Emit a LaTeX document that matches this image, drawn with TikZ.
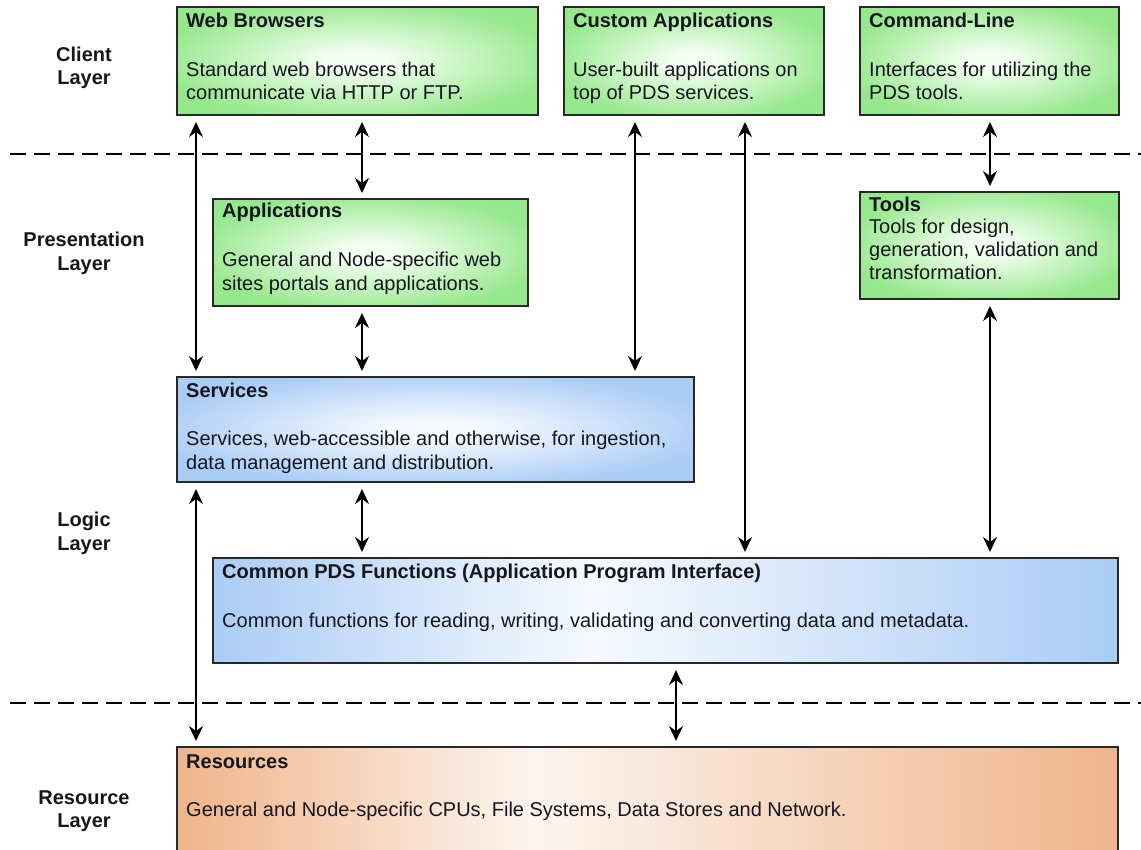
\documentclass[tikz,border=0pt]{standalone}
\usepackage{fontspec}
\setmainfont{Liberation Sans}
\usetikzlibrary{arrows.meta}
\definecolor{gedge}{RGB}{150,232,140}
\definecolor{gmid}{RGB}{244,255,242}
\definecolor{bedge}{RGB}{170,204,245}
\definecolor{bmid}{RGB}{246,250,255}
\definecolor{oedge}{RGB}{240,180,138}
\definecolor{omid}{RGB}{253,245,239}
\definecolor{bord}{RGB}{40,40,40}
\definecolor{txt}{RGB}{22,22,30}
\pgfdeclareradialshading{gball}{\pgfpoint{0bp}{0bp}}{color(0bp)=(gmid); color(4bp)=(gmid); color(28bp)=(gedge); color(50bp)=(gedge)}
\pgfdeclareradialshading{bball}{\pgfpoint{0bp}{0bp}}{color(0bp)=(bmid); color(4bp)=(bmid); color(28bp)=(bedge); color(50bp)=(bedge)}
\pgfdeclarehorizontalshading{bwide}{100bp}{color(0bp)=(bedge); color(25bp)=(bedge); color(46bp)=(bmid); color(75bp)=(bedge); color(100bp)=(bedge)}
\pgfdeclarehorizontalshading{owide}{100bp}{color(0bp)=(oedge); color(25bp)=(oedge); color(44bp)=(omid); color(75bp)=(oedge); color(100bp)=(oedge)}
\tikzset{
  box/.style={draw=bord, line width=1.8pt, anchor=north west, inner sep=0pt, outer sep=0pt},
  gbox/.style={box, shading=gball},
  bbox/.style={box, shading=bball},
  ttl/.style={anchor=base west, inner sep=0pt, text=txt, font=\bfseries\fontsize{20}{24}\selectfont},
  bdy/.style={anchor=base west, inner sep=0pt, text=txt, font=\fontsize{20}{24}\selectfont},
  lay/.style={anchor=base, inner sep=0pt, text=txt, font=\bfseries\fontsize{20}{24}\selectfont},
  tip/.tip={Stealth[length=15pt,width=14pt,inset=5pt]},
  arr/.style={line width=1.9pt, draw=black, tip-tip, shorten <=7pt, shorten >=6pt},
  dashline/.style={line width=1.8pt, draw=black, dash pattern=on 16pt off 8pt}
}
\begin{document}
\begin{tikzpicture}[x=1pt,y=-1pt]
\useasboundingbox (0,0) rectangle (1141,850);
\clip (0,0) rectangle (1141,850);
\fill[white] (0,0) rectangle (1141,850);

% separators
\coordinate (d1l) at (10,154);
\coordinate (d1r) at (1141,154);
\coordinate (d2l) at (10,703);
\coordinate (d2r) at (1141,703);
\draw[dashline] (d1l) -- (d1r);
\draw[dashline] (d2l) -- (d2r);

% layer labels
\node[lay] (L1a) at (84,62) {Client};
\node[lay] (L1b) at (84,85) {Layer};
\node[lay] (L2a) at (84,247) {Presentation};
\node[lay] (L2b) at (84,271) {Layer};
\node[lay] (L3a) at (84,526) {Logic};
\node[lay] (L3b) at (84,550) {Layer};
\node[lay] (L4a) at (84,804) {Resource};
\node[lay] (L4b) at (84,827) {Layer};

% client layer boxes
\node[gbox, minimum width=361pt, minimum height=108pt] (WB) at (177,7) {};
\node[ttl] (WBt) at (186,28) {Web Browsers};
\node[bdy] (WB1) at (186,77) {Standard web browsers that};
\node[bdy] (WB2) at (186,100) {communicate via HTTP or FTP.};

\node[gbox, minimum width=260pt, minimum height=108pt] (CA) at (564,7) {};
\node[ttl] (CAt) at (573,28) {Custom Applications};
\node[bdy] (CA1) at (573,77) {User-built applications on};
\node[bdy] (CA2) at (573,100) {top of PDS services.};

\node[gbox, minimum width=259pt, minimum height=108pt] (CL) at (860,7) {};
\node[ttl] (CLt) at (869,28) {Command-Line};
\node[bdy] (CL1) at (869,77) {Interfaces for utilizing the};
\node[bdy] (CL2) at (869,100) {PDS tools.};

% presentation layer boxes
\node[gbox, minimum width=315pt, minimum height=107pt] (AP) at (213,199) {};
\node[ttl] (APt) at (222,218) {Applications};
\node[bdy] (AP1) at (222,267) {General and Node-specific web};
\node[bdy] (AP2) at (222,291) {sites portals and applications.};

\node[gbox, minimum width=259pt, minimum height=107pt] (TL) at (860,192) {};
\node[ttl] (TLt) at (869,212) {Tools};
\node[bdy] (TL1) at (869,234) {Tools for design,};
\node[bdy] (TL2) at (869,257) {generation, validation and};
\node[bdy] (TL3) at (869,280) {transformation.};

% logic layer boxes
\node[bbox, minimum width=517pt, minimum height=105pt] (SV) at (177,377) {};
\node[ttl] (SVt) at (186,397) {Services};
\node[bdy] (SV1) at (186,445) {Services, web-accessible and otherwise, for ingestion,};
\node[bdy] (SV2) at (186,469) {data management and distribution.};

\node[box, shading=bwide, minimum width=905pt, minimum height=105pt] (CP) at (213,558) {};
\node[ttl] (CPt) at (222,578) {Common PDS Functions (Application Program Interface)};
\node[bdy] (CP1) at (222,627) {Common functions for reading, writing, validating and converting data and metadata.};

% resource layer box
\node[box, shading=owide, minimum width=941pt, minimum height=130pt] (RS) at (177,747) {};
\node[ttl] (RSt) at (186,768) {Resources};
\node[bdy] (RS1) at (186,816) {General and Node-specific CPUs, File Systems, Data Stores and Network.};

% connectors
\draw[arr] ([xshift=19pt]WB.south west) -- ([xshift=19pt]SV.north west);
\draw[arr] ([xshift=185pt]WB.south west) -- ([xshift=149pt]AP.north west);
\draw[arr] ([xshift=149pt]AP.south west) -- ([xshift=185pt]SV.north west);
\draw[arr] ([xshift=71pt]CA.south west) -- ([xshift=458pt]SV.north west);
\draw[arr] ([xshift=181pt]CA.south west) -- ([xshift=532pt]CP.north west);
\draw[arr] ([xshift=130pt]CL.south west) -- ([xshift=130pt]TL.north west);
\draw[arr] ([xshift=130pt]TL.south west) -- ([xshift=777pt]CP.north west);
\draw[arr] ([xshift=185pt]SV.south west) -- ([xshift=149pt]CP.north west);
\draw[arr] ([xshift=19pt]SV.south west) -- ([xshift=19pt]RS.north west);
\draw[arr] ([xshift=463pt]CP.south west) -- ([xshift=499pt]RS.north west);
\end{tikzpicture}
\end{document}
